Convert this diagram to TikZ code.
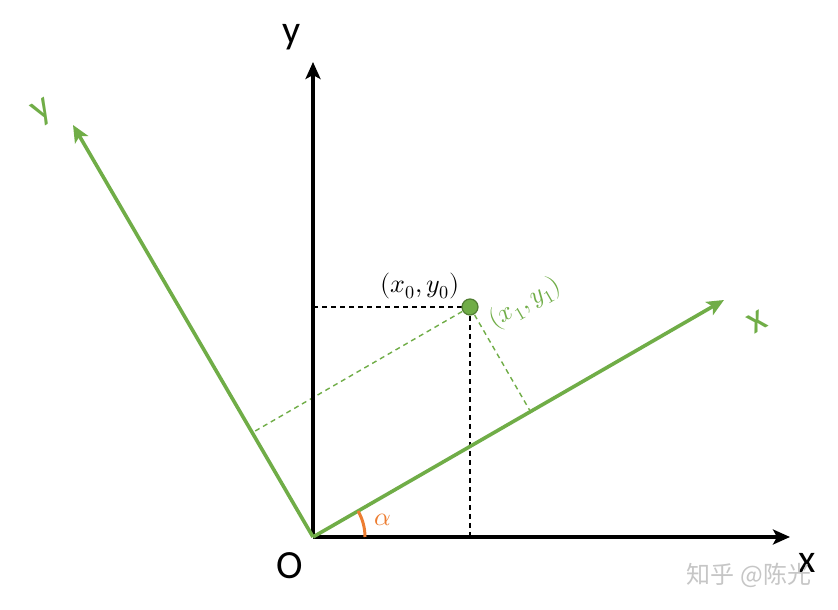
\documentclass[tikz,border=0pt]{standalone}
\usepackage{fontspec}
\usepackage{unicode-math}
\setmainfont{Carlito}
\setmathfont{Latin Modern Math}
\newfontfamily\cjk{Noto Sans CJK SC}
\usetikzlibrary{arrows.meta}
\definecolor{ogreen}{HTML}{70AD47}
\definecolor{dgreen}{HTML}{507E32}
\definecolor{oorange}{HTML}{ED7D31}
\tikzset{
  blackaxis/.style={line width=3.2pt,-{Stealth[length=17pt,width=15pt,inset=4pt]}},
  greenaxis/.style={ogreen,line width=3.6pt,-{Stealth[length=17pt,width=15pt,inset=4pt]}},
  bdash/.style={black,line width=1.4pt,dash pattern=on 5pt off 4pt},
  gdash/.style={ogreen,line width=1.4pt,dash pattern=on 5pt off 4pt},
  biglabel/.style={font=\fontsize{40}{40}\selectfont,inner sep=0pt},
  mathlabel/.style={font=\fontsize{26}{26}\selectfont,inner sep=0pt},
}
\begin{document}
\begin{tikzpicture}[x=1pt,y=1pt]
\useasboundingbox (0,0) rectangle (838,610);
\fill[white] (0,0) rectangle (838,610);
\coordinate (O) at (313,73);
\coordinate (X) at (790,73);
\coordinate (Y) at (313,548);
\coordinate (xp) at (724,310);
\coordinate (yp) at (73,485);
\coordinate (P) at (470,303);
\coordinate (Px) at (313,303);
\coordinate (Py) at (470,73);
\coordinate (fx) at (530.4,198.5);
\coordinate (fy) at (252.6,177.5);
% dashed projections
\draw[bdash] (Px) -- (P);
\draw[bdash] (P) -- (Py);
\draw[gdash] (P) -- (fx);
\draw[gdash] (P) -- (fy);
% axes
\draw[blackaxis] (O) -- (X);
\draw[blackaxis] (O) -- (Y);
\draw[greenaxis] (O) -- (xp);
\draw[greenaxis] (O) -- (yp);
% angle
\draw[oorange,line width=3pt] ([shift={(0:52pt)}]O) arc[start angle=0,end angle=30,radius=52pt];
\node[oorange,font=\fontsize{26}{26}\selectfont,inner sep=0pt] (alpha) at (383,90) {$\alpha$};
% point
\node[circle,fill=ogreen,draw=dgreen,line width=1.2pt,minimum size=16pt,inner sep=0pt] (pt) at (P) {};
% labels
\node[biglabel] (ly) at (292,573) {y};
\node[biglabel] (lO) at (290,44) {O};
\node[biglabel] (lX) at (807,47) {x};
\node[biglabel,ogreen,rotate=30] (lyp) at (43,497) {y};
\node[biglabel,ogreen,rotate=30] (lxp) at (757,288) {x};
\node[mathlabel] (l0) at (420,324) {$(x_0,y_0)$};
\node[mathlabel,ogreen,rotate=30] (l1) at (525,307) {$(x_1,y_1)$};
\node[gray!45,font=\cjk\fontsize{24}{24}\selectfont] (wm) at (749,35) {知乎 @陈光};
\end{tikzpicture}
\end{document}
